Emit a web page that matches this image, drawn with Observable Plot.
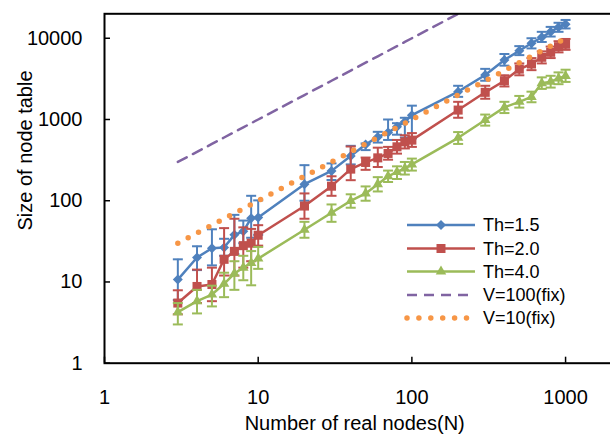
<!DOCTYPE html>
<html><head><meta charset="utf-8">
<script src="https://cdn.jsdelivr.net/npm/d3@7"></script>
<script src="https://cdn.jsdelivr.net/npm/@observablehq/plot@0.6"></script>
<style>
html,body{margin:0;padding:0;background:#fff;overflow:hidden;width:610px;height:435px;}
#wrap{position:relative;width:610px;height:435px;overflow:hidden;}
#wrap svg{display:block;max-width:none !important;width:640px !important;height:435px !important;}
#wrap svg#legend{position:absolute;left:0;top:0;pointer-events:none;width:610px !important;}
</style></head><body><div id="wrap"></div>
<script>
// ---- data ----
const N = [3,4,5,6,7,8,9,10,20,30,40,50,60,70,80,90,100,200,300,400,500,600,700,800,900,1000];

const th15   = [10.7,20,26,26.5,38,42,61,62,160,233,355,493,610,690,813,935,1130,2200,3530,5400,7030,8670,10300,12000,13700,14900];
const th15Hi = [19,27.5,44.5,34,67,57,115,101,274,288,474,507,705,1000,900,1050,1480,2600,4200,6400,8000,10000,12000,13800,15500,16800];
const th15Lo = [6,14,16,21,22,30,35,38,100,180,280,420,520,560,650,600,585,1900,3000,4600,6200,7500,9000,10500,12000,13200];

const th20   = [5.5,8.8,9.3,19,23.8,28,30,37.6,86,151,245,296,337,382,461,531,557,1306,2160,3000,4170,4820,5830,6710,7870,8430];
const th20Hi = [7.9,14.2,15,46,60,47,45,50,123,200,465,340,450,460,560,640,680,1650,2600,3500,4900,5700,6900,7900,9200,9800];
const th20Lo = [4.0,5.5,5.8,12,12,15,18,28,60,115,179,240,260,320,380,440,460,1050,1800,2550,3500,4050,4900,5700,6700,7200];

const th40   = [4.25,5.8,7.0,9.5,12.7,15,17.1,19.4,44,71,99.5,123,160,200,226,250,280,595,984,1410,1650,1900,2790,2920,3210,3430];
const th40Hi = [5.5,8,9,13,18,21,24,27,55,90,120,150,195,235,265,300,330,700,1150,1650,1950,2200,3300,3450,3800,4100];
const th40Lo = [3.0,4.1,5.0,6.5,8.0,10.5,9.1,14.5,35,55,82,100,130,170,185,210,235,500,840,1200,1400,1630,2380,2470,2720,2900];

const v100 = [300,400,500,600,700,800,900,1000,2000,3000,4000,5000,6000,7000,8000,9000,10000,20000,30000,40000,50000,60000,70000,80000,90000,100000];
const v10  = [30,40,50,60,70,80,90,100,200,300,400,500,600,700,800,900,1000,2000,3000,4000,5000,6000,7000,8000,9000,10000];

const xTicks = [1,10,100,1000];
const yTicks = [1,10,100,1000,10000];
const seriesNames = ["Th=1.5","Th=2.0","Th=4.0","V=100(fix)","V=10(fix)"];
const xTitle = "Number of real nodes(N)";
const yTitle = "Size of node table";

// ---- styles ----
const C = {blue:"#4F81BD", red:"#C0504D", green:"#9BBB59", purple:"#8064A2", orange:"#F79646"};
const FONT = "'Liberation Sans', Arial, sans-serif";

const rows = (v, hi, lo) => N.map((n,i)=>({n, v:v[i], hi:hi[i], lo:lo[i]}));
const s15 = rows(th15, th15Hi, th15Lo);
const s20 = rows(th20, th20Hi, th20Lo);
const s40 = rows(th40, th40Hi, th40Lo);
const sV100 = N.map((n,i)=>({n, v:v100[i]}));
const sV10  = N.map((n,i)=>({n, v:v10[i]}));

const cap = {draw(ctx, size){ const w = Math.sqrt(size/Math.PI); ctx.moveTo(-w,0); ctx.lineTo(w,0); }};

function series(data, color, symbol, r){
  return [
    Plot.ruleX(data, {x:"n", y1:"lo", y2:"hi", stroke:color, strokeWidth:2}),
    Plot.dot(data, {x:"n", y:"hi", symbol:cap, r:5, stroke:color, strokeWidth:2, fill:"none"}),
    Plot.dot(data, {x:"n", y:"lo", symbol:cap, r:5, stroke:color, strokeWidth:2, fill:"none"}),
    Plot.line(data, {x:"n", y:"v", stroke:color, strokeWidth:2.5}),
    Plot.dot(data, {x:"n", y:"v", symbol, r, fill:color, stroke:"none"})
  ];
}

const chart = Plot.plot({
  width: 640, height: 435,
  marginLeft: 104, marginRight: 1.6, marginTop: 13.3, marginBottom: 72.3,
  style: {fontFamily: FONT, fontSize: "20px", color:"#000", background:"#fff"},
  x: {type:"log", domain:[1,3000]},
  y: {type:"log", domain:[1,20000]},
  marks: [
    ...series(s15, C.blue, "diamond2", 4.5),
    ...series(s20, C.red, "square", 5.1),
    ...series(s40, C.green, "triangle", 3.9),
    Plot.line(sV100, {x:"n", y:"v", stroke:C.purple, strokeWidth:2.5, strokeDasharray:"10,7", clip:true}),
    Plot.line(sV10, {x:"n", y:"v", stroke:C.orange, strokeWidth:5.5, strokeDasharray:"0,11.7", strokeLinecap:"round", clip:true}),
    Plot.frame({stroke:"#000", strokeWidth:2}),
    Plot.axisX({ticks:xTicks, tickSize:-6, tickPadding:33, tickFormat:d=>String(d), label:null, fontSize:20, stroke:"#000", strokeWidth:1.5}),
    Plot.axisY({ticks:yTicks, tickSize:-6, tickPadding:28, tickFormat:d=>String(d), label:null, fontSize:20, stroke:"#000", strokeWidth:1.5}),
    Plot.text([xTitle], {frameAnchor:"bottom", dy:60, dx:-17, fontSize:20, fill:"#000", lineAnchor:"middle", textAnchor:"middle"}),
    Plot.text([yTitle], {frameAnchor:"left", dx:-79, dy:-38, rotate:-90, fontSize:20, fill:"#000", lineAnchor:"middle", textAnchor:"middle"})
  ]
});
document.getElementById("wrap").appendChild(chart);

// ---- legend ----
const lg = d3.select("#wrap").append("svg").attr("id","legend").attr("width",610).attr("height",435)
  .style("font-family", FONT).style("font-size","18px");
const ly = [225, 248.5, 271.5, 295, 318];
const items = [
  {color:C.blue, sym:d3.symbolDiamond2, size:64},
  {color:C.red, sym:d3.symbolSquare, size:81},
  {color:C.green, sym:d3.symbolTriangle, size:48},
  {color:C.purple, dash:"10,7"},
  {color:C.orange, dot:true}
];
items.forEach((it,i)=>{
  const g = lg.append("g").attr("transform",`translate(0,${ly[i]})`);
  if (it.dot) {
    g.append("line").attr("x1",407).attr("x2",470).attr("y1",0).attr("y2",0)
      .attr("stroke",it.color).attr("stroke-width",5.5).attr("stroke-linecap","round").attr("stroke-dasharray","0,11.9");
  } else {
    g.append("line").attr("x1",407).attr("x2",475).attr("y1",0).attr("y2",0)
      .attr("stroke",it.color).attr("stroke-width",2.5).attr("stroke-dasharray", it.dash || null);
  }
  if (it.sym) g.append("path").attr("d", d3.symbol(it.sym, it.size)()).attr("transform","translate(441,0)").attr("fill",it.color);
  g.append("text").attr("x",483).attr("y",0).attr("dy","0.35em").attr("fill","#000").text(seriesNames[i]);
});
</script>
</body></html>
